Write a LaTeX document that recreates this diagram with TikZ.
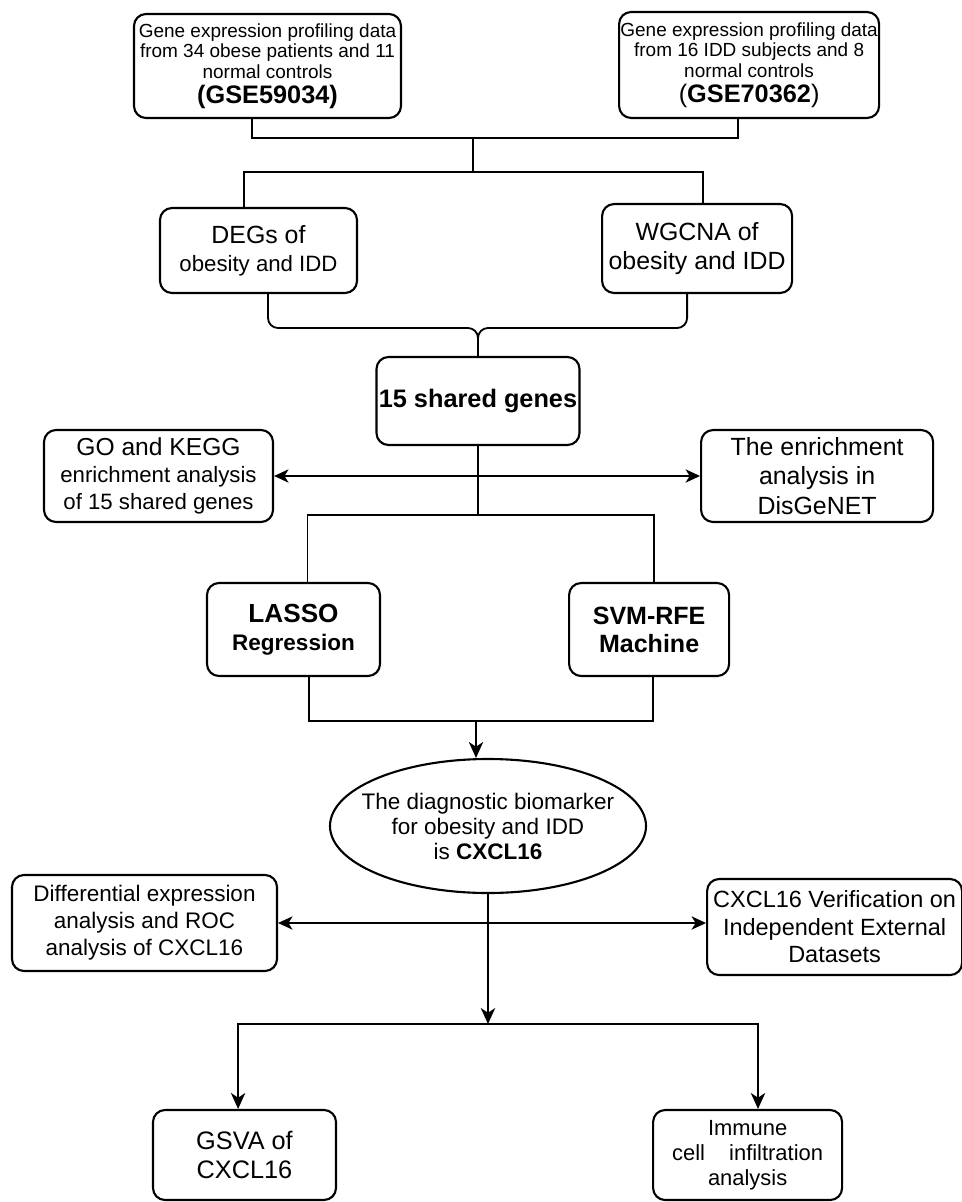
\documentclass[tikz,border=0pt]{standalone}
\usepackage{fontspec}
\setmainfont{Liberation Sans}
\usepackage{tikz}
\usetikzlibrary{positioning,arrows.meta,shapes.geometric,calc}
\newcommand{\fsz}[2]{\fontsize{#1}{#2}\selectfont}

\begin{document}
\begin{tikzpicture}[
  box/.style={draw, line width=1.5pt, rounded corners=0.3cm, align=center, inner sep=0pt},
  link/.style={line width=1.3pt},
  arr/.style={-{Stealth[length=0.4cm, width=0.36cm, inset=0.12cm]}, line width=1.3pt},
  both/.style={{Stealth[length=0.36cm, width=0.33cm, inset=0.1cm]}-{Stealth[length=0.36cm, width=0.33cm, inset=0.1cm]}, line width=1.5pt}
]
\useasboundingbox (0,0) rectangle (24.05,-30.05);

\node[box, minimum width=6.675cm, minimum height=2.6cm, font=\fsz{13.5}{14.6}] (gse59) at (6.6875,-1.65)
  {Gene expression profiling data\\from 34 obese patients and 11\\normal controls\\[3pt]{\fsz{18}{20}\bfseries (GSE59034)}};
\node[box, right=5.4cm of gse59, yshift=0.025cm, minimum width=6.5cm, minimum height=2.65cm, font=\fsz{13.5}{14.6}] (gse70)
  {Gene expression profiling data\\from 16 IDD subjects and 8\\normal controls\\[3pt]{\fsz{18}{20}(\textbf{GSE70362})}};

\node[box, minimum width=4.925cm, minimum height=2.125cm, font=\fsz{15.8}{20}] (degs) at (6.4625,-6.2625)
  {{\fsz{17.7}{20}DEGs of}\\obesity and IDD};
\node[box, right=6.075cm of degs, yshift=0.05cm, minimum width=4.75cm, minimum height=2.225cm, font=\fsz{17.7}{21}] (wgcna)
  {WGCNA of\\obesity and IDD};

\node[box, minimum width=5.075cm, minimum height=2.2cm, font=\fsz{18}{20}\bfseries] (shared) at (11.95,-10.025) {15 shared genes};

\node[box, minimum width=5.725cm, minimum height=2.3cm, font=\fsz{15.8}{19}] (gokegg) at (3.9625,-11.9)
  {{\fsz{17.5}{19}GO and KEGG}\\enrichment analysis\\of 15 shared genes};
\node[box, right=10.65cm of gokegg, minimum width=5.8cm, minimum height=2.3cm, font=\fsz{17.7}{21}] (disgenet)
  {The enrichment\\analysis in\\DisGeNET};

\node[box, minimum width=4.325cm, minimum height=2.325cm, font=\fsz{16}{20}\bfseries] (lasso) at (7.3375,-15.7375)
  {{\fsz{18.6}{20}LASSO}\\Regression};
\node[box, right=4.675cm of lasso, minimum width=4cm, minimum height=2.325cm, font=\fsz{17.8}{20}\bfseries] (svm)
  {SVM-RFE\\Machine};

\node[draw, ellipse, line width=1.5pt, align=center, inner sep=-0.5cm, minimum width=7.9cm, minimum height=3.35cm,
      font=\fsz{16}{17.8}] (biomarker) at (12.2,-20.65)
  {The diagnostic biomarker\\for obesity and IDD\\is \textbf{CXCL16}};

\node[box, minimum width=6.625cm, minimum height=2.4cm, font=\fsz{16}{19.2}] (diffexpr) at (3.6125,-23.075)
  {Differential expression\\analysis and ROC\\analysis of CXCL16};
\node[box, right=10.7cm of diffexpr, yshift=-0.1cm, minimum width=6.375cm, minimum height=2.4cm, font=\fsz{16.7}{19.6}] (verif)
  {CXCL16 Verification on\\Independent External\\Datasets};

\node[box, minimum width=4.575cm, minimum height=2.25cm, font=\fsz{18}{20.6}] (gsva) at (6.1125,-28.875)
  {GSVA of\\CXCL16};
\node[box, right=7.875cm of gsva, minimum width=4.725cm, minimum height=2.25cm, font=\fsz{15.6}{17.8}] (immune)
  {Immune\\cell\hspace{1.1em}infiltration\\analysis};

\coordinate (j1) at (11.825,-3.45);
\coordinate (j2) at (11.825,-4.3);
\coordinate (j3) at (11.95,-8.2);
\coordinate (j4) at (11.95,-12.875);
\coordinate (j5) at (11.9,-18.025);
\coordinate (j6) at (12.2,-25.6);

\draw[link] ([xshift=-0.39cm]gse59.south) |- (j1) -| ([xshift=-0.275cm]gse70.south);
\draw[link] (j1) -- (j2);
\draw[link] ([xshift=-0.3625cm]degs.north) |- (j2) -| ([xshift=0.15cm]wgcna.north);
\draw[link, rounded corners=0.25cm] ([xshift=0.2375cm]degs.south) |- (j3) -- (shared.north);
\draw[link, rounded corners=0.25cm] ([xshift=-0.25cm]wgcna.south) |- (j3) -- (shared.north);
\draw[link] (shared.south) -- (j4);
\draw[both] (gokegg) -- (disgenet);
\draw[link] ([xshift=0.35cm]lasso.north) |- (j4) -| ([xshift=0.125cm]svm.north);
\draw[link] ([xshift=0.39cm]lasso.south) |- (j5) -| ([xshift=0.1cm]svm.south);
\draw[arr] (j5) -- (j5 |- biomarker.north);
\draw[arr] (biomarker.south) -- (j6);
\draw[both] (diffexpr.east) -- (diffexpr.east -| verif.west);
\draw[arr] (j6) -| ([xshift=-0.16cm]gsva.north);
\draw[arr] (j6) -| ([xshift=0.26cm]immune.north);
\end{tikzpicture}
\end{document}
